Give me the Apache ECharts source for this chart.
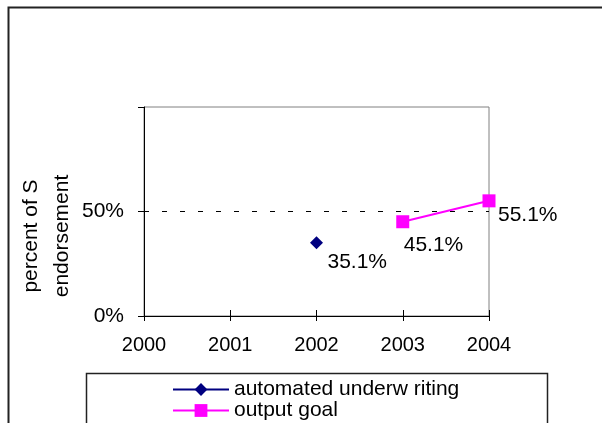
<!DOCTYPE html>
<html>
<head>
<meta charset="utf-8">
<script src="https://cdn.jsdelivr.net/npm/echarts@6/dist/echarts.min.js"></script>
<style>
  html, body { margin: 0; padding: 0; background: #fff; }
  #chart { width: 602px; height: 423px; }
</style>
</head>
<body>
<div id="chart"></div>
<script>
  // values
  const years = ['2000', '2001', '2002', '2003', '2004'];
  const automated = [null, null, 0.351, null, null];
  const outputGoal = [null, null, null, 0.451, 0.551];
  const yTicks = [0, 0.5, 1];
  const seriesNames = ['automated underw riting', 'output goal'];
  const axisTitle = ['percent of S', 'endorsement'];

  const font = 'Liberation Sans, Arial, sans-serif';
  const pct = v => (v * 100).toFixed(1) + '%';

  // label nudges per point (the original has them placed by hand)
  const nudges = { 2: [11, 20], 3: [1, 23], 4: [9, 14] };
  const withLabels = arr => arr.map((v, i) => v == null ? null : {
    value: v,
    label: { offset: nudges[i] || [8, 16] }
  });

  const chart = echarts.init(document.getElementById('chart'));
  const option = {
    animation: false,
    backgroundColor: '#fff',
    textStyle: { fontFamily: font },
    grid: {
      left: 144, right: 113, top: 107, bottom: 107,
      show: true, borderColor: '#808080', borderWidth: 1
    },
    xAxis: [
      {
        type: 'category', data: years, boundaryGap: false,
        axisLine: { lineStyle: { color: '#000', width: 1 } },
        axisTick: { alignWithLabel: true, length: 5, lineStyle: { color: '#000' } },
        axisLabel: { color: '#000', fontSize: 20, fontFamily: font, margin: 19 },
        splitLine: { show: false }
      },
      {
        // only draws the upper half of the crossing ticks
        type: 'category', data: years, boundaryGap: false,
        position: 'top', offset: -209,
        axisLine: { show: false },
        axisTick: { length: 6, lineStyle: { color: '#000' } },
        axisLabel: { show: false },
        splitLine: { show: false }
      }
    ],
    yAxis: {
      type: 'value', min: yTicks[0], max: yTicks[yTicks.length - 1], interval: 0.5,
      axisLine: { show: true, lineStyle: { color: '#000', width: 1 } },
      axisTick: { show: true, length: 6, lineStyle: { color: '#000' } },
      axisLabel: {
        color: '#000', fontSize: 21, fontFamily: font, margin: 20,
        formatter: v => v === 1 ? '' : Math.round(v * 100) + '%'
      },
      splitLine: { show: false }
    },
    legend: {
      orient: 'vertical', left: 172, top: 379, padding: 0,
      itemWidth: 56, itemHeight: 16, itemGap: 0,
      textStyle: { color: '#000', fontSize: 21, fontFamily: font, lineHeight: 20 },
      data: seriesNames
    },
    series: [
      {
        name: seriesNames[0], type: 'line', data: withLabels(automated),
        symbol: 'diamond', symbolSize: 13,
        itemStyle: { color: '#000080' },
        lineStyle: { color: '#000080', width: 2 },
        label: {
          show: true, position: 'inside', align: 'left', verticalAlign: 'middle',
          color: '#000', fontSize: 21, fontFamily: font,
          formatter: p => pct(p.value)
        },
        markLine: {
          silent: true, symbol: 'none', label: { show: false },
          lineStyle: { color: '#000', type: [5, 13], width: 1 },
          data: [{ yAxis: 0.5 }]
        }
      },
      {
        name: seriesNames[1], type: 'line', data: withLabels(outputGoal),
        symbol: 'rect', symbolSize: 13,
        itemStyle: { color: '#ff00ff' },
        lineStyle: { color: '#ff00ff', width: 2 },
        label: {
          show: true, position: 'inside', align: 'left', verticalAlign: 'middle',
          color: '#000', fontSize: 21, fontFamily: font,
          formatter: p => pct(p.value)
        }
      }
    ],
    graphic: [
      {
        type: 'rect', silent: true,
        shape: { x: 8.5, y: 7.5, width: 800, height: 800 },
        style: { fill: 'none', stroke: '#222', lineWidth: 2 }
      },
      {
        type: 'rect', silent: true,
        shape: { x: 86.5, y: 373.5, width: 461, height: 200 },
        style: { fill: 'none', stroke: '#222', lineWidth: 1.5 }
      },
      {
        type: 'text', x: 31, y: 236, rotation: Math.PI / 2,
        style: { text: axisTitle[0], fill: '#000', fontSize: 21, fontFamily: font, align: 'center', verticalAlign: 'middle' }
      },
      {
        type: 'text', x: 62, y: 236, rotation: Math.PI / 2,
        style: { text: axisTitle[1], fill: '#000', fontSize: 21, fontFamily: font, align: 'center', verticalAlign: 'middle' }
      }
    ]
  };
  chart.setOption(option);
</script>
</body>
</html>
